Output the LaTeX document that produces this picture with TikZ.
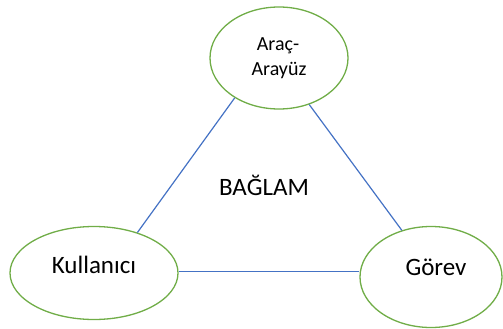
\documentclass[tikz,border=0pt]{standalone}
\usepackage{fontspec}
\setmainfont{Carlito}
\usetikzlibrary{shapes.geometric}
\definecolor{ellgreen}{HTML}{70AD47}
\definecolor{lineblue}{HTML}{4472C4}
\definecolor{txt}{HTML}{000000}
\tikzset{
  oval/.style={ellipse, draw=ellgreen, line width=1.3pt, fill=white, inner sep=0pt},
  conn/.style={draw=lineblue, line width=1.2pt},
  lbl/.style={anchor=base, inner sep=0pt, text=txt, font=\fontsize{25}{30}\selectfont},
  lblsmall/.style={anchor=base, inner sep=0pt, text=txt, font=\fontsize{20}{24}\selectfont}
}
\begin{document}
\begin{tikzpicture}[x=1pt,y=-1pt]
\useasboundingbox (0,0) rectangle (503,329);
\node[oval, minimum width=138pt, minimum height=102pt] (top) at (279,58) {};
\node[oval, minimum width=168pt, minimum height=93pt] (left) at (94,273) {};
\node[oval, minimum width=142pt, minimum height=101pt] (right) at (431,277) {};
\draw[conn] (top.222) -- (left.43);
\draw[conn] (top.303) -- (right.122);
\draw[conn] (left.1.5) -- (left.1.5 -| right.west);
\node[lblsmall] (t1) at (278,51) {Araç-};
\node[lblsmall] (t2) at (279,75) {Arayüz};
\node[lbl] (kul) at (94,273) {Kullanıcı};
\node[lbl] (gor) at (436,275) {Görev};
\node[lbl] (bag) at (264,195) {BAĞLAM};
\end{tikzpicture}
\end{document}
